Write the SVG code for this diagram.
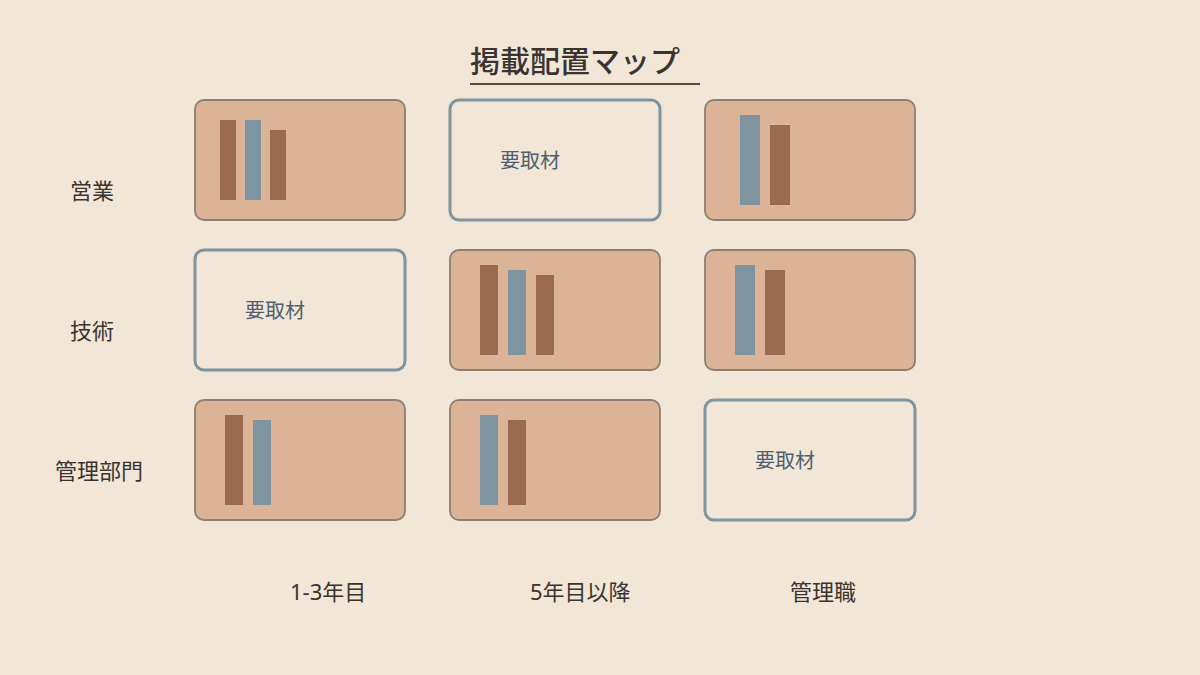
<svg xmlns="http://www.w3.org/2000/svg" width="1200" height="675" viewBox="0 0 1200 675">
<style>
.bg{fill:#F2E6D7}
.card{fill:#DBB396;stroke:#8B8073;stroke-width:1.8}
.empty{fill:#F2E6D7;stroke:#7E95A0;stroke-width:3}
.br{fill:#9C6B4E}
.bl{fill:#7E95A0}
.lbl{font-family:"Noto Sans","Noto Sans CJK JP",sans-serif;font-size:22px;fill:#3A3430}
.req{font-family:"Noto Sans CJK JP","Noto Sans",sans-serif;font-size:20px;fill:#4E6070}
.title{font-family:"Noto Sans CJK JP","Noto Sans",sans-serif;font-size:30px;font-weight:500;fill:#3A3430}
</style>
<rect class="bg" x="0" y="0" width="1200" height="675"/>
<g id="title">
<text class="title" x="470" y="72">掲載配置マップ</text>
<line x1="470" y1="84" x2="700" y2="84" stroke="#5A4A3C" stroke-width="2"/>
</g>
<g id="row-labels">
<text class="lbl" x="70" y="199">営業</text>
<text class="lbl" x="70" y="339">技術</text>
<text class="lbl" x="55" y="479">管理部門</text>
</g>
<g id="col-labels">
<text class="lbl" x="290" y="600">1-3年目</text>
<text class="lbl" x="530" y="600">5年目以降</text>
<text class="lbl" x="790" y="600">管理職</text>
</g>
<g id="cell-sales-junior">
<rect class="card" x="195" y="100" width="210" height="120" rx="9"/>
<rect class="br" x="220" y="120" width="16" height="80"/>
<rect class="bl" x="245" y="120" width="16" height="80"/>
<rect class="br" x="270" y="130" width="16" height="70"/>
</g>
<g id="cell-sales-senior">
<rect class="empty" x="450" y="100" width="210" height="120" rx="9"/>
<text class="req" x="500" y="168">要取材</text>
</g>
<g id="cell-sales-manager">
<rect class="card" x="705" y="100" width="210" height="120" rx="9"/>
<rect class="bl" x="740" y="115" width="20" height="90"/>
<rect class="br" x="770" y="125" width="20" height="80"/>
</g>
<g id="cell-tech-junior">
<rect class="empty" x="195" y="250" width="210" height="120" rx="9"/>
<text class="req" x="245" y="318">要取材</text>
</g>
<g id="cell-tech-senior">
<rect class="card" x="450" y="250" width="210" height="120" rx="9"/>
<rect class="br" x="480" y="265" width="18" height="90"/>
<rect class="bl" x="508" y="270" width="18" height="85"/>
<rect class="br" x="536" y="275" width="18" height="80"/>
</g>
<g id="cell-tech-manager">
<rect class="card" x="705" y="250" width="210" height="120" rx="9"/>
<rect class="bl" x="735" y="265" width="20" height="90"/>
<rect class="br" x="765" y="270" width="20" height="85"/>
</g>
<g id="cell-admin-junior">
<rect class="card" x="195" y="400" width="210" height="120" rx="9"/>
<rect class="br" x="225" y="415" width="18" height="90"/>
<rect class="bl" x="253" y="420" width="18" height="85"/>
</g>
<g id="cell-admin-senior">
<rect class="card" x="450" y="400" width="210" height="120" rx="9"/>
<rect class="bl" x="480" y="415" width="18" height="90"/>
<rect class="br" x="508" y="420" width="18" height="85"/>
</g>
<g id="cell-admin-manager">
<rect class="empty" x="705" y="400" width="210" height="120" rx="9"/>
<text class="req" x="755" y="468">要取材</text>
</g>
<g id="connectors"/>
</svg>
